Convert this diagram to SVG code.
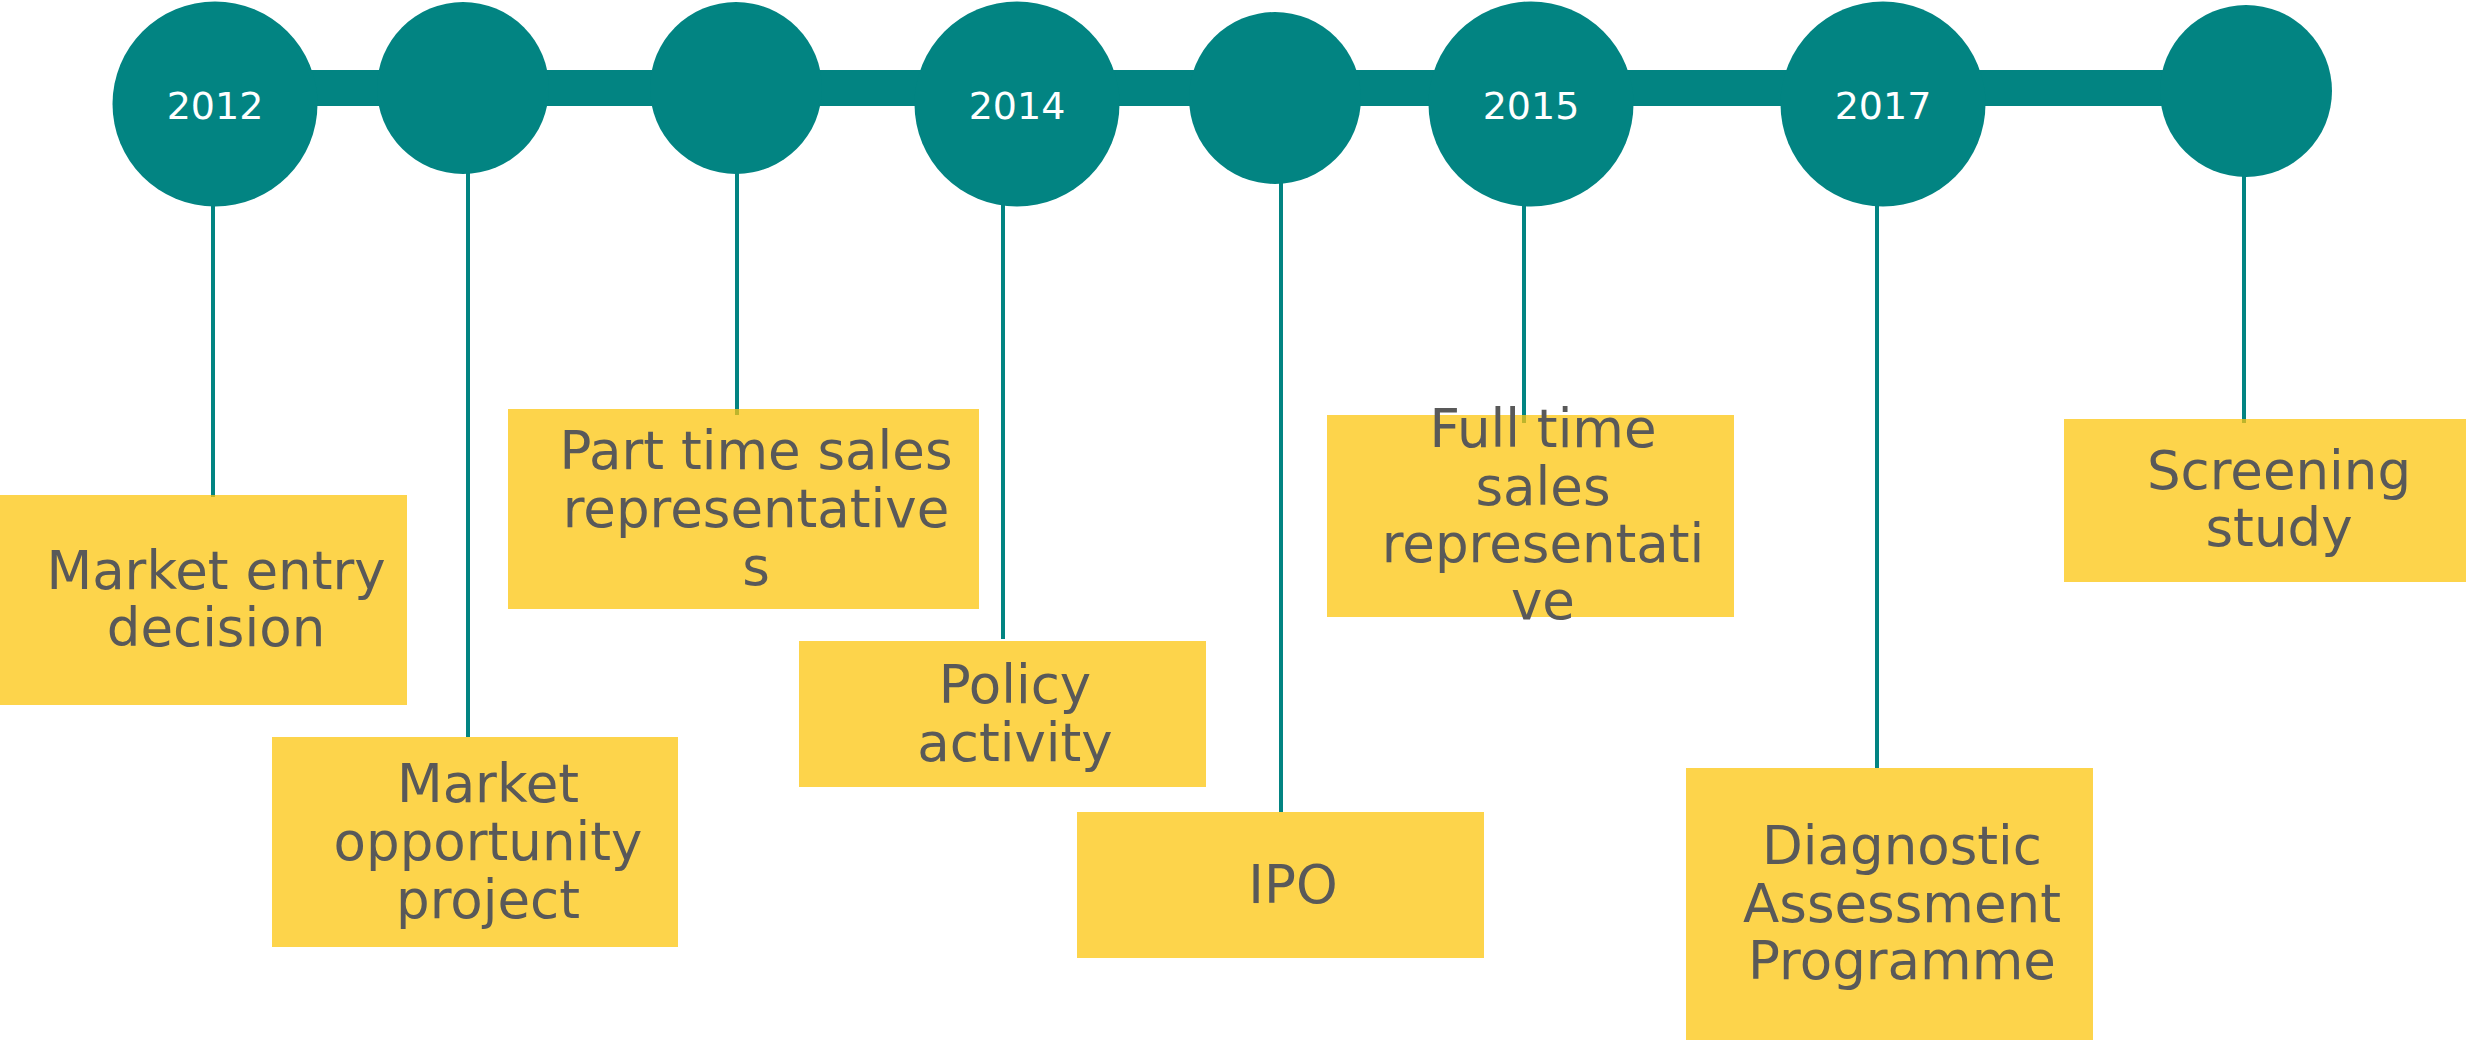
<svg xmlns="http://www.w3.org/2000/svg" width="2466" height="1040" viewBox="0 0 2466 1040">
<style>
.bar{fill:#028482}
.dot{fill:#028482}
.yr{font-family:"DejaVu Sans",Verdana,sans-serif;font-size:38px;fill:#ffffff;text-anchor:middle}
.box{fill:#FCC60F;fill-opacity:0.75}
.lbl{font-family:"DejaVu Sans",Verdana,sans-serif;font-size:53px;fill:#595959;text-anchor:middle}
.con{stroke:#028482;stroke-width:4;fill:none}
</style>
<rect width="2466" height="1040" fill="#ffffff"/>
<rect id="timeline-bar" class="bar" x="215" y="70" width="2031" height="36"/>

<g id="connectors">
<line class="con" x1="213" y1="200" x2="213" y2="497"/>
<line class="con" x1="468" y1="170" x2="468" y2="737"/>
<line class="con" x1="737" y1="170" x2="737" y2="415"/>
<line class="con" x1="1003" y1="200" x2="1003" y2="639"/>
<line class="con" x1="1281" y1="180" x2="1281" y2="812"/>
<line class="con" x1="1524" y1="200" x2="1524" y2="423"/>
<line class="con" x1="1877" y1="200" x2="1877" y2="768"/>
<line class="con" x1="2244" y1="172" x2="2244" y2="423"/>
</g>

<g id="box-market-entry">
<rect class="box" x="0" y="495" width="407" height="210"/>
<text class="lbl"><tspan x="216" y="589">Market entry</tspan><tspan x="216" y="646">decision</tspan></text>
</g>
<g id="box-market-opportunity">
<rect class="box" x="272" y="737" width="406" height="210"/>
<text class="lbl"><tspan x="488" y="802">Market</tspan><tspan x="488" y="860">opportunity</tspan><tspan x="488" y="918">project</tspan></text>
</g>
<g id="box-part-time">
<rect class="box" x="508" y="409" width="471" height="200"/>
<text class="lbl"><tspan x="756" y="469">Part time sales</tspan><tspan x="756" y="527">representative</tspan><tspan x="756" y="585">s</tspan></text>
</g>
<g id="box-policy">
<rect class="box" x="799" y="641" width="407" height="146"/>
<text class="lbl"><tspan x="1015" y="703">Policy</tspan><tspan x="1015" y="761">activity</tspan></text>
</g>
<g id="box-ipo">
<rect class="box" x="1077" y="812" width="407" height="146"/>
<text class="lbl" x="1293" y="903">IPO</text>
</g>
<g id="box-full-time">
<rect class="box" x="1327" y="415" width="407" height="202"/>
<text class="lbl"><tspan x="1543" y="447">Full time</tspan><tspan x="1543" y="504.5">sales</tspan><tspan x="1543" y="562">representati</tspan><tspan x="1543" y="619">ve</tspan></text>
</g>
<g id="box-diagnostic">
<rect class="box" x="1686" y="768" width="407" height="272"/>
<text class="lbl"><tspan x="1902" y="864">Diagnostic</tspan><tspan x="1902" y="922">Assessment</tspan><tspan x="1902" y="979">Programme</tspan></text>
</g>
<g id="box-screening">
<rect class="box" x="2064" y="419" width="404" height="163"/>
<text class="lbl"><tspan x="2279" y="489">Screening</tspan><tspan x="2279" y="546">study</tspan></text>
</g>

<g id="node-2012"><circle class="dot" cx="215" cy="104" r="102.5"/><text class="yr" x="215" y="119">2012</text></g>
<g id="node-2"><circle class="dot" cx="463" cy="88" r="86"/></g>
<g id="node-3"><circle class="dot" cx="736" cy="88" r="86"/></g>
<g id="node-2014"><circle class="dot" cx="1017" cy="104" r="102.5"/><text class="yr" x="1017" y="119">2014</text></g>
<g id="node-5"><circle class="dot" cx="1275" cy="98" r="86"/></g>
<g id="node-2015"><circle class="dot" cx="1531" cy="104" r="102.5"/><text class="yr" x="1531" y="119">2015</text></g>
<g id="node-2017"><circle class="dot" cx="1883" cy="104" r="102.5"/><text class="yr" x="1883" y="119">2017</text></g>
<g id="node-8"><circle class="dot" cx="2246" cy="91" r="86"/></g>
</svg>
